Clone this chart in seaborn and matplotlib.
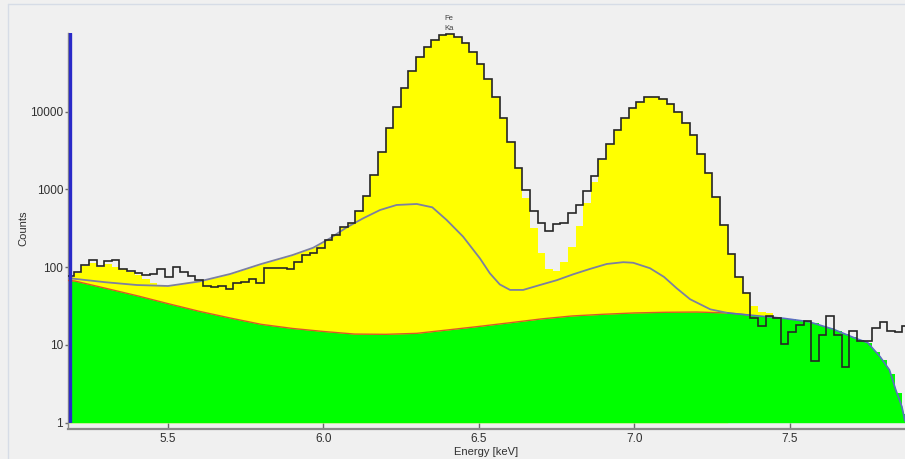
import numpy as np
import matplotlib
matplotlib.use("Agg")
import matplotlib.pyplot as plt
import matplotlib.transforms as mtransforms
from matplotlib.lines import Line2D
from matplotlib.ticker import NullLocator
import seaborn as sns

# ---------------- data ----------------
CH0 = 5.1730      # left edge of first channel (keV)
CHW = 0.02444     # channel width (keV)

counts = [77, 88, 107, 124, 104, 120, 124, 95, 90, 85,
          79, 82, 95, 75, 101, 88, 77, 68, 57, 55,
          57, 52, 62, 64, 70, 63, 98, 97, 98, 94,
          118, 144, 151, 178, 224, 260, 326, 373, 533, 824,
          1535, 3006, 6110, 11400, 20000, 33300, 50100, 67300, 83600, 97000,
          98900, 90600, 75800, 58100, 41100, 26400, 15300, 8230, 4110, 1873,
          984, 528, 367, 292, 357, 367, 502, 625, 955, 1489,
          2444, 3811, 5820, 8230, 11060, 13460, 15300, 15600, 14560, 12560,
          9820, 7220, 5020, 2860, 1614, 800, 350, 150, 75, 46,
          22, 17.7, 23.6, 22, 10.3, 14.8, 18.2, 20.4, 6.3, 13.4,
          23.6, 13.4, 5.2, 15.3, 11.2, 11.2, 16.7, 19.6, 15.3, 14.6,
          17.7]

bg_tail = [22.4, 21.9, 21.3, 20.6, 20.0, 19.0, 17.7, 16.4, 15.2, 13.9,
           12.6, 11.6, 10.5, 8.2, 6.4, 4.2, 2.4, 1.3]
TAIL_START = 93

fit = [74, 85, 104, 112, 101, 110, 101, 94, 88, 79,
       70, 62, 57, 55, 55, 56, 59, 63, 57, 55,
       57, 52, 62, 64, 70, 63, 98, 97, 98, 94,
       118, 144, 151, 178, 224, 260, 326, 373, 533, 824,
       1535, 3006, 6110, 11400, 20000, 33300, 50100, 67300, 83600, 97000,
       98900, 90600, 75800, 58100, 41100, 26400, 15300, 8230, 4110, 1873,
       770, 322, 151, 95, 90, 116, 184, 337, 668, 1258,
       2406, 3811, 5820, 8230, 11060, 13460, 15300, 15600, 14560, 12560,
       9820, 7220, 5020, 2860, 1614, 800, 350, 150, 75, 46,
       31.7, 26.8, 25.5] + bg_tail

cont_E = [5.17, 5.3, 5.4, 5.5, 5.6, 5.7, 5.8, 5.9, 5.967, 6.021,
          6.075, 6.128, 6.182, 6.235, 6.30, 6.35, 6.396, 6.449, 6.503, 6.535,
          6.567, 6.60, 6.642, 6.696, 6.75, 6.803, 6.857, 6.911, 6.964, 6.996,
          7.05, 7.095, 7.136, 7.179, 7.244, 7.3]
cont_V = [73, 64, 59, 57.3, 65.5, 81.8, 110, 143, 178, 235,
          326, 426, 544, 631, 650, 589, 405, 247, 130, 83.5,
          60, 51, 51, 59, 68, 81, 95, 110, 116, 114,
          97, 75, 53.5, 38.7, 28.7, 25.8]

bg_E = [5.17, 5.2, 5.3, 5.4, 5.5, 5.6, 5.7, 5.8, 5.9, 6.0,
        6.1, 6.2, 6.3, 6.4, 6.5, 6.6, 6.7, 6.8, 6.9, 7.0,
        7.1, 7.2, 7.3, 7.37, 7.48, 7.56, 7.64, 7.71, 7.75, 7.79,
        7.82, 7.84, 7.86, 7.87]
bg_V = [68, 66.4, 53.5, 43, 34, 27.1, 22.2, 18.4, 16.3, 14.9,
        13.8, 13.7, 14.1, 15.6, 17.3, 19.3, 21.6, 23.6, 24.8, 25.8,
        26.3, 26.5, 25.8, 24.2, 22.0, 19.9, 15.9, 12.2, 10.7, 7.06,
        4.77, 2.67, 1.61, 1.05]

xticks = [5.5, 6.0, 6.5, 7.0, 7.5]
xtick_labels = ["5.5", "6.0", "6.5", "7.0", "7.5"]
yticks = [1, 10, 100, 1000, 10000]
ytick_labels = ["1", "10", "100", "1000", "10000"]
peak_label = ("Fe", "Ka")
peak_E = 6.4035

# ---------------- style ----------------
sns.set_theme(style="white")
plt.rcParams["font.family"] = ["Liberation Sans", "DejaVu Sans"]

BGC = "#f0f0f0"
W, H = 905, 459
fig = plt.figure(figsize=(W / 100, H / 100), dpi=100, facecolor=BGC)
ax = fig.add_axes([68 / W, (H - 422.7) / H, (W - 68) / W, (422.7 - 33) / H])
ax.set_facecolor(BGC)
ax.set_yscale("log")
XMIN, XMAX = 5.1785, 7.870
YMIN, YMAX = 1, 1.028e5
ax.set_xlim(XMIN, XMAX)
ax.set_ylim(YMIN, YMAX)

# faint panel frame of the window
fig.add_artist(Line2D([7.5 / W, 7.5 / W], [0, 1 - 4 / H], color="#d6dce6", lw=1))
fig.add_artist(Line2D([7.5 / W, 1], [1 - 4 / H, 1 - 4 / H], color="#d6dce6", lw=1))

edges = CH0 + CHW * np.arange(len(counts) + 1)

# yellow: fitted spectrum
ax.stairs(fit, edges, fill=True, color="#ffff00", baseline=YMIN, lw=0, zorder=1)
ax.fill_between(cont_E, cont_V, YMIN, color="#ffff00", lw=0, zorder=1)
# green: background
ax.fill_between(bg_E, bg_V, YMIN, color="#00ff00", lw=0, zorder=2)
ax.stairs(bg_tail, edges[TAIL_START:], fill=True, color="#00ff00",
          baseline=YMIN, lw=0, zorder=2)

# background smooth line (red) and continuum curve (grey/blue)
n_red = sum(1 for e in bg_E if e <= 7.37)
sns.lineplot(x=bg_E[:n_red], y=bg_V[:n_red], color="#d8582a", lw=1.0,
             estimator=None, sort=False, ax=ax, zorder=3)
sns.lineplot(x=cont_E, y=cont_V, color="#7c80a0", lw=1.3,
             estimator=None, sort=False, ax=ax, zorder=4)
tail_i = [i for i, e in enumerate(bg_E) if e >= 7.3]
sns.lineplot(x=[bg_E[i] for i in tail_i], y=[bg_V[i] for i in tail_i],
             color="#5a6ec0", lw=1.2, estimator=None, sort=False, ax=ax, zorder=4)

# measured spectrum
ax.stairs(counts, edges, color="#262626", lw=1.2, baseline=None, zorder=5)

# blue marker line at the left
ax.axvline(XMIN + 1.6 / 311, color="#2a2ac8", lw=2.4, zorder=6)

# axes cosmetics
for s in ["top", "right"]:
    ax.spines[s].set_visible(False)
ax.spines["left"].set_color("#8a8a8a")
ax.spines["left"].set_linewidth(1.0)
ax.spines["left"].set_bounds(10 ** (-5 / 77.75), YMAX)
ax.spines["bottom"].set_color("#8a8a8a")
ax.spines["bottom"].set_linewidth(1.6)
ax.spines["bottom"].set_position(("outward", 4.5))

ax.set_xticks(xticks, labels=xtick_labels)
ax.set_yticks(yticks, labels=ytick_labels)
ax.yaxis.set_minor_locator(NullLocator())
ax.xaxis.set_minor_locator(NullLocator())
ax.tick_params(axis="x", direction="in", length=4, width=1, color="#6a6a6a",
               labelsize=8.5, pad=3, labelcolor="#303030", bottom=True)
ax.tick_params(axis="y", direction="out", length=2.5, width=1, color="#6a6a6a",
               labelsize=8.5, pad=1, labelcolor="#303030", left=True)
ax.set_xlabel("Energy [keV]", fontsize=8, color="#303030", labelpad=1)
ax.set_ylabel("Counts", fontsize=8, color="#303030", labelpad=1)

trans = mtransforms.blended_transform_factory(ax.transData, ax.transAxes)
ax.text(peak_E, 1.003, "\n".join(peak_label), transform=trans, ha="center",
        va="bottom", fontsize=5.5, color="#404040", linespacing=1.6,
        clip_on=False)

fig.savefig("out.png", dpi=100, facecolor=BGC)
